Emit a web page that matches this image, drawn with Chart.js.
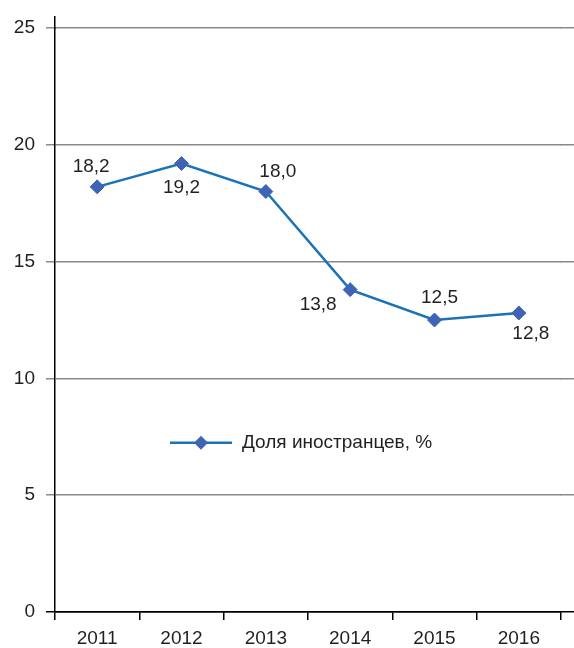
<!DOCTYPE html>
<html>
<head>
<meta charset="utf-8">
<script src="https://cdn.jsdelivr.net/npm/chart.js@4"></script>
<style>
html,body{margin:0;padding:0;background:#fff;}
#wrap{width:574px;height:648px;}
</style>
</head>
<body>
<div id="wrap"><canvas id="c" width="574" height="648"></canvas></div>
<script>
const categories = ["2011", "2012", "2013", "2014", "2015", "2016"];
const shareValues = [18.2, 19.2, 18.0, 13.8, 12.5, 12.8];
const valueLabels = ["18,2", "19,2", "18,0", "13,8", "12,5", "12,8"];
const seriesName = "Доля иностранцев, %";
const yTicks = [0, 5, 10, 15, 20, 25];

const FONT = "'Liberation Sans', Arial, sans-serif";
const FS = 19;
const TEXT = "#231f20";
const LINE = "#1a73b8";
const MARK = "#3f64b4";
const GRID = "#8a8a8a";

// label offsets relative to point (dx, dy)
const labelOffsets = [[-6,-20],[0,24],[12,-20],[-32,15],[5,-22],[12,21]];

function align(p, w) { return Math.round(p - w / 2) + w / 2; }

const extras = {
  id: 'extras',
  afterDraw(chart) {
    const ctx = chart.ctx;
    const ca = chart.chartArea;
    const y = chart.scales.y;
    const W = chart.width;
    ctx.save();
    // extend grid lines to right edge
    yTicks.forEach(v => {
      const py = align(y.getPixelForValue(v), 1.5);
      ctx.beginPath();
      ctx.strokeStyle = v === 0 ? '#000' : GRID;
      ctx.lineWidth = 1.5;
      ctx.moveTo(ca.right - 1, py);
      ctx.lineTo(W, py);
      ctx.stroke();
    });
    // extend y axis line above top
    ctx.beginPath();
    ctx.strokeStyle = '#000';
    ctx.lineWidth = 1.5;
    const ax = align(ca.left, 1.5);
    ctx.moveTo(ax, ca.top - 12);
    ctx.lineTo(ax, ca.top + 1);
    ctx.stroke();
    // data labels
    const meta = chart.getDatasetMeta(0);
    ctx.fillStyle = TEXT;
    ctx.font = FS + "px " + FONT;
    ctx.textAlign = 'center';
    ctx.textBaseline = 'middle';
    meta.data.forEach((pt, i) => {
      const o = labelOffsets[i];
      ctx.fillText(valueLabels[i], pt.x + o[0], pt.y + o[1]);
    });
    // legend
    const lx = 170, ly = y.getPixelForValue(7.25);
    ctx.beginPath();
    ctx.strokeStyle = LINE;
    ctx.lineWidth = 2.5;
    ctx.moveTo(lx, ly);
    ctx.lineTo(lx + 62, ly);
    ctx.stroke();
    const cx = lx + 31;
    ctx.beginPath();
    ctx.fillStyle = MARK;
    ctx.moveTo(cx, ly - 7);
    ctx.lineTo(cx + 7, ly);
    ctx.lineTo(cx, ly + 7);
    ctx.lineTo(cx - 7, ly);
    ctx.closePath();
    ctx.fill();
    ctx.fillStyle = TEXT;
    ctx.textAlign = 'left';
    ctx.fillText(seriesName, 242, ly);
    ctx.restore();
  }
};

new Chart(document.getElementById('c'), {
  type: 'line',
  data: {
    labels: categories,
    datasets: [{
      label: seriesName,
      data: shareValues,
      borderColor: LINE,
      borderWidth: 2.5,
      pointStyle: 'rectRot',
      pointRadius: 7,
      pointHoverRadius: 7,
      pointBackgroundColor: MARK,
      pointBorderColor: MARK,
      pointBorderWidth: 1,
      tension: 0,
      clip: false
    }]
  },
  options: {
    responsive: false,
    devicePixelRatio: 1,
    animation: false,
    events: [],
    layout: { padding: { top: 28, right: 13, left: 0, bottom: 0 } },
    plugins: { legend: { display: false }, tooltip: { enabled: false } },
    scales: {
      x: {
        type: 'category',
        offset: true,
        grid: {
          offset: true,
          drawOnChartArea: false,
          drawTicks: true,
          tickLength: 8,
          color: '#000',
          lineWidth: 1.5
        },
        border: { color: '#000', width: 1.5 },
        ticks: { color: TEXT, font: { family: FONT, size: FS }, padding: 7, maxRotation: 0 },
        afterFit(s) { s.height = 36; }
      },
      y: {
        min: 0,
        max: 25,
        afterBuildTicks(s) { s.ticks = yTicks.map(v => ({ value: v })); },
        grid: {
          color: c => (c.tick && c.tick.value === 0) ? '#000' : GRID,
          lineWidth: 1.5,
          tickLength: 9,
          drawTicks: true
        },
        border: { color: '#000', width: 1.5 },
        ticks: { color: TEXT, font: { family: FONT, size: FS }, padding: 11 },
        afterFit(s) { s.width = 55; }
      }
    }
  },
  plugins: [extras]
});
</script>
</body>
</html>
